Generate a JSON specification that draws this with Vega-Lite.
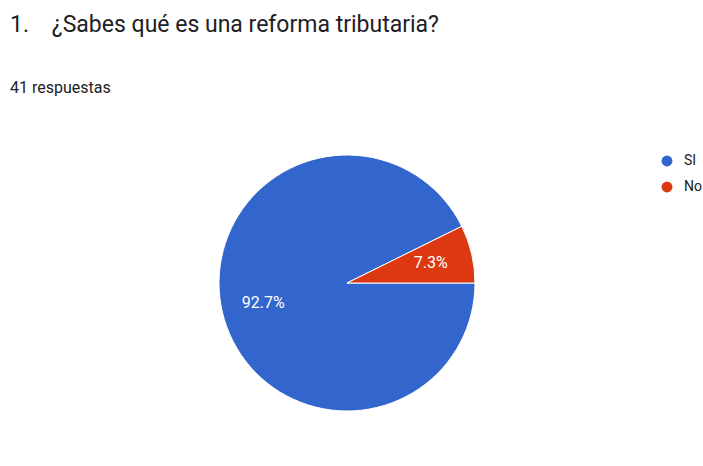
{
  "$schema": "https://vega.github.io/schema/vega-lite/v6.json",
  "autosize": {"type": "fit", "contains": "padding"},
  "width": 703,
  "height": 466,
  "padding": {"left": 0, "top": 14, "right": 9, "bottom": 10},
  "background": "white",
  "title": {
    "text": "1.\u00a0\u00a0\u00a0\u00a0¿Sabes qué es una reforma tributaria?",
    "subtitle": "41 respuestas",
    "anchor": "start",
    "frame": "group",
    "dx": 10,
    "font": "Roboto",
    "fontSize": 23,
    "fontWeight": "normal",
    "color": "#202124",
    "subtitleFont": "Roboto",
    "subtitleFontSize": 16,
    "subtitleColor": "#202124",
    "subtitlePadding": 43,
    "offset": 14
  },
  "data": {
    "values": [
      {"respuesta": "SI", "porcentaje": 92.7, "etiqueta": "92.7%", "orden": 1},
      {"respuesta": "No", "porcentaje": 7.3, "etiqueta": "7.3%", "orden": 2}
    ]
  },
  "encoding": {
    "theta": {"field": "porcentaje", "type": "quantitative", "stack": true, "scale": {"range": [1.5707963, 7.8539816]}},
    "order": {"field": "orden", "type": "quantitative"}
  },
  "layer": [
    {
      "mark": {"type": "arc", "outerRadius": 128, "stroke": "white", "strokeWidth": 1},
      "encoding": {
        "color": {
          "field": "respuesta",
          "type": "nominal",
          "sort": ["SI", "No"],
          "scale": {"domain": ["SI", "No"], "range": ["#3366cc", "#dc3912"]},
          "legend": {
            "title": null,
            "orient": "none",
            "legendX": 660,
            "legendY": 44,
            "padding": 0,
            "symbolType": "circle",
            "symbolSize": 120,
            "symbolStrokeWidth": 0,
            "labelFont": "Roboto",
            "labelFontSize": 14,
            "labelColor": "#202124",
            "labelOffset": 10,
            "rowPadding": 12
          }
        }
      }
    },
    {
      "mark": {"type": "text", "radius": 86, "font": "Roboto", "fontSize": 16, "color": "white"},
      "encoding": {
        "text": {"field": "etiqueta", "type": "nominal"}
      }
    }
  ]
}
